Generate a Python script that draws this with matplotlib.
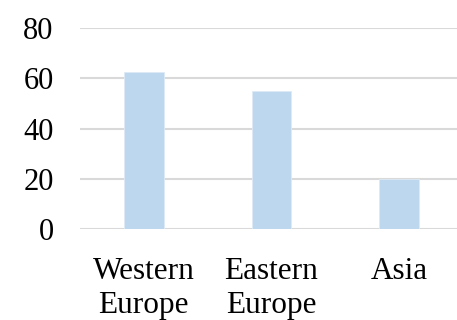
import matplotlib
matplotlib.use("Agg")
import matplotlib.pyplot as plt

regions = ["Western\nEurope", "Eastern\nEurope", "Asia"]
values = [62.5, 55, 20]
y_ticks = [0, 20, 40, 60, 80]

plt.rcParams["font.family"] = ["Liberation Serif", "DejaVu Serif"]

fig = plt.figure(figsize=(4.57, 3.2), dpi=100)
ax = fig.add_axes([80 / 457, 91 / 320, 383 / 457, 201 / 320])

x = range(len(regions))
ax.bar(x, values, width=0.31, color="#bdd7ee", edgecolor="#deebf7",
       linewidth=0.6, zorder=3)

ax.set_xlim(-0.5, len(regions) - 0.5)
ax.set_ylim(0, 80)
ax.set_yticks(y_ticks)
ax.set_xticks(list(x))
ax.set_xticklabels(regions, fontsize=22.5, linespacing=1.24)
ax.tick_params(axis="y", labelsize=22, length=0, pad=19)
ax.tick_params(axis="x", length=0, pad=20)
for lbl in ax.get_yticklabels():
    lbl.set_color("black")

ax.grid(axis="y", color="#d9d9d9", linewidth=1.5, zorder=0)
ax.set_axisbelow(True)
for side in ["top", "right", "left", "bottom"]:
    ax.spines[side].set_visible(False)

fig.savefig("out.png", dpi=100)
